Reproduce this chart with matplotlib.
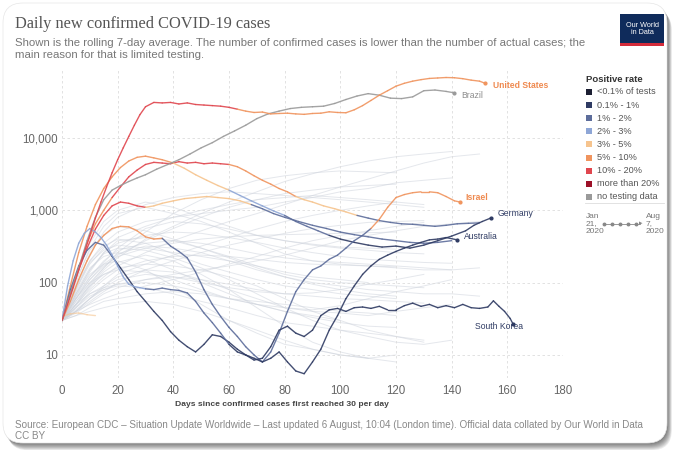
import numpy as np
import matplotlib
matplotlib.use("Agg")
import matplotlib.pyplot as plt
from matplotlib.collections import LineCollection
from matplotlib.patches import FancyBboxPatch, Rectangle
from matplotlib.transforms import IdentityTransform
from matplotlib.lines import Line2D

plt.rcParams["font.family"] = ["Liberation Sans", "DejaVu Sans"]

# positive-rate bins (legend order) and their colours
rate_labels = ["<0.1% of tests", "0.1% - 1%", "1% - 2%", "2% - 3%", "3% - 5%",
               "5% - 10%", "10% - 20%", "more than 20%", "no testing data"]
rate_colors = ["#1c1f33", "#2f3b63", "#5d6d9b", "#8ea6d6", "#f6c48e",
               "#f0945e", "#e0464e", "#9c1028", "#9a9a9a"]

# highlighted countries: day since 30 cases/day, 7-day avg, rate bin changes (day, bin)
us_days = [0, 2, 4, 6, 8, 10, 12, 14, 16, 18, 20, 22, 24, 26, 28, 30, 33, 36, 39, 42, 45, 48,
           51, 54, 57, 60, 63, 66, 69, 72, 75, 78, 81, 84, 87, 90, 93, 96, 99, 102, 105, 108,
           111, 114, 117, 120, 123, 126, 129, 132, 135, 138, 141, 144, 147, 150, 152]
us_vals = [30, 50, 85, 150, 260, 450, 780, 1300, 2100, 3300, 5000, 7300, 10500, 15000, 21000,
           27000, 31000, 30500, 31000, 29500, 30500, 29000, 28500, 28000, 27500, 26500, 25000,
           23500, 22500, 22800, 21500, 21800, 22000, 21500, 21200, 21800, 22000, 23000, 22500,
           22300, 24500, 28000, 33000, 39000, 45000, 52000, 57000, 61000, 64000, 66500, 67500,
           68500, 68000, 66000, 63000, 61000, 57000]
us_rate = [(0, 6), (64, 5)]

brazil_days = [0, 3, 6, 9, 12, 15, 18, 21, 24, 27, 30, 34, 38, 42, 46, 50, 54, 58, 62, 66, 70,
               74, 78, 82, 86, 90, 94, 98, 102, 106, 110, 114, 118, 122, 126, 130, 134, 138, 141]
brazil_vals = [30, 70, 160, 380, 800, 1400, 1900, 2200, 2500, 2800, 3100, 3700, 4300, 5000,
               6000, 7300, 8600, 10500, 12500, 15000, 18500, 21500, 23500, 25500, 26500, 27000,
               27500, 30000, 34000, 38000, 41000, 39000, 35500, 35000, 37000, 45000, 46000,
               44000, 42000]
brazil_rate = [(0, 8)]

uk_days = [0, 3, 6, 9, 12, 15, 18, 21, 24, 27, 30, 33, 36, 39, 42, 45, 48, 51, 54, 57, 60, 63,
           66, 69, 72, 75, 78, 81, 84, 87, 90, 94, 98, 102, 106, 110, 114, 118, 122, 126, 130,
           134, 138, 142, 146, 150]
uk_vals = [30, 70, 160, 350, 650, 1000, 1500, 2100, 2900, 3600, 4300, 4600, 4500, 4400, 4700,
           4500, 4600, 4400, 4500, 4400, 4300, 4000, 3500, 3000, 2600, 2300, 2000, 1800, 1550,
           1400, 1300, 1150, 1050, 950, 850, 780, 720, 680, 650, 640, 620, 600, 620, 650, 660,
           670]
uk_rate = [(0, 5), (20, 6), (62, 5), (86, 4), (110, 2)]

germany_days = [0, 3, 6, 9, 12, 15, 18, 21, 24, 27, 30, 33, 36, 40, 44, 48, 52, 56, 60, 64, 68,
                72, 76, 80, 84, 88, 92, 96, 100, 105, 110, 115, 120, 125, 130, 135, 140, 145,
                148, 151, 154]
germany_vals = [30, 90, 260, 600, 1200, 2000, 2900, 3900, 4800, 5400, 5600, 5300, 5000, 4500,
                3800, 3100, 2600, 2200, 1900, 1600, 1350, 1150, 980, 850, 700, 600, 520, 450,
                400, 360, 330, 310, 320, 300, 330, 380, 440, 520, 620, 700, 780]
germany_rate = [(0, 5), (42, 4), (62, 3), (82, 2), (100, 1)]

other_days = [0, 3, 6, 9, 12, 15, 18, 21, 24, 27, 30, 33, 36, 40, 44, 48, 52, 56, 60, 64, 68,
              72, 76, 80, 85, 90, 95, 100, 105, 110, 115, 120, 125, 130, 135, 140]
other_vals = [30, 70, 150, 300, 550, 850, 1150, 1300, 1250, 1150, 1100, 1150, 1250, 1350, 1450,
              1500, 1550, 1500, 1450, 1350, 1200, 1050, 900, 800, 700, 620, 560, 500, 460, 430,
              400, 380, 360, 350, 360, 380]
other_rate = [(0, 6), (32, 4), (72, 2)]

israel_days = [0, 3, 6, 9, 12, 15, 18, 21, 24, 27, 30, 33, 36, 39, 42, 45, 48, 51, 54, 57, 60,
               63, 66, 69, 72, 75, 78, 81, 84, 87, 90, 93, 96, 99, 102, 105, 108, 111, 114, 117,
               120, 123, 126, 129, 132, 135, 138, 141, 143]
israel_vals = [30, 55, 110, 200, 330, 450, 560, 600, 590, 520, 430, 400, 410, 320, 270, 220,
               140, 80, 50, 34, 24, 18, 13, 10, 8, 11, 20, 40, 75, 110, 150, 170, 210, 240, 300,
               380, 450, 560, 750, 1100, 1500, 1650, 1750, 1800, 1800, 1750, 1550, 1350, 1300]
israel_rate = [(0, 5), (38, 2), (112, 5)]

australia_days = [0, 3, 6, 9, 12, 15, 18, 21, 24, 27, 30, 33, 36, 39, 42, 45, 48, 51, 54, 57,
                  60, 63, 66, 69, 72, 75, 78, 81, 84, 87, 90, 93, 96, 99, 102, 105, 108, 111,
                  114, 117, 120, 123, 126, 129, 132, 135, 138, 142]
australia_vals = [30, 80, 170, 280, 360, 330, 230, 160, 110, 75, 55, 40, 30, 21, 16, 13, 11, 14,
                  19, 18, 15, 12, 10, 9, 8, 9, 11, 8, 6, 5.5, 8, 12, 22, 35, 60, 90, 130, 170,
                  210, 240, 270, 300, 330, 360, 390, 400, 420, 390]
australia_rate = [(0, 2), (20, 1)]

korea_days = [0, 2, 4, 6, 8, 10, 12, 14, 16, 18, 20, 22, 24, 26, 28, 30, 33, 36, 39, 42, 45, 48,
              51, 54, 57, 60, 63, 66, 69, 72, 75, 78, 81, 84, 87, 90, 93, 96, 99, 102, 105, 108,
              111, 114, 117, 120, 123, 126, 129, 132, 135, 138, 141, 144, 147, 150, 153, 155,
              157, 159, 161, 162]
korea_vals = [30, 90, 200, 350, 480, 560, 500, 420, 330, 240, 170, 120, 95, 88, 85, 82, 80, 84,
              80, 78, 72, 55, 38, 28, 20, 14, 11, 10, 8.5, 9, 13, 22, 25, 20, 18, 22, 35, 42, 44,
              40, 45, 46, 44, 47, 42, 42, 48, 52, 47, 50, 45, 48, 45, 50, 45, 44, 46, 56, 47, 40,
              32, 27]
korea_rate = [(0, 3), (32, 2), (62, 1)]

flat_days = [0, 3, 6, 9, 12]
flat_vals = [34, 37, 38, 36, 35]
flat_rate = [(0, 4)]

# end labels: name, x, y
label_names = ["United States", "Brazil", "Israel", "Germany", "Australia", "South Korea"]
label_x = [155, 143.5, 145, 156.5, 144.5, 148.5]
label_y = [53000, 39000, 1480, 890, 430, 25]
label_colors = ["#ef8a50", "#8c8c8c", "#ef8a50", "#2f3b63", "#2f3b63", "#2f3b63"]

# faint background countries, sampled on bg_days
bg_days = [0, 5, 10, 15, 20, 30, 40, 50, 60, 70, 80, 90, 100, 110, 120, 130, 140, 150]
bg_series = [
    [30, 60, 110, 180, 250, 320, 300, 260, 200, 150, 120, 100, 90, 80, 75, 70, 70, 65],
    [30, 45, 70, 90, 120, 150, 140, 110, 80, 60, 45, 40, 38, 35, 40, 45, 50],
    [30, 80, 200, 350, 500, 700, 800, 900, 1000, 1100, 1300, 1500, 1800, 2000, 2400, 2600, 2800],
    [30, 55, 90, 130, 160, 180, 170, 150, 120, 90, 60, 40, 30, 22, 18, 15],
    [30, 40, 60, 80, 95, 110, 130, 150, 170, 200, 240, 300, 380, 450, 520, 600, 650, 700],
    [30, 70, 150, 250, 300, 280, 220, 160, 110, 70, 45, 30, 22, 18, 15, 14, 16],
    [30, 50, 80, 120, 170, 260, 380, 520, 700, 900, 1200, 1600, 2100, 2700, 3500, 4500, 5500, 6000],
    [30, 90, 250, 500, 800, 1200, 1500, 1700, 1800, 1700, 1600, 1500, 1400, 1300, 1200, 1100],
    [30, 35, 45, 55, 60, 70, 75, 70, 60, 55, 50, 45, 40, 38, 35],
    [30, 60, 120, 200, 280, 350, 380, 350, 300, 250, 220, 200, 190, 180, 170, 160, 150],
    [30, 50, 90, 150, 220, 400, 600, 900, 1300, 1800, 2500, 3200, 4000, 4800, 5500, 6000, 6500],
    [30, 70, 130, 180, 200, 150, 90, 50, 30, 20, 14, 12, 10, 9, 10],
    [30, 40, 55, 75, 100, 150, 200, 260, 330, 400, 480, 560, 620, 680, 700, 720],
    [30, 100, 300, 600, 900, 1100, 900, 700, 500, 350, 250, 200, 180, 170, 160, 150, 150, 160],
    [30, 45, 65, 80, 90, 85, 70, 55, 45, 35, 28, 25, 22, 20, 18, 16],
    [30, 60, 110, 170, 230, 300, 350, 400, 430, 450, 460, 470, 480, 490, 500],
    [30, 80, 180, 300, 420, 600, 800, 1000, 1200, 1400, 1500, 1600, 1500, 1400, 1300, 1200],
    [30, 40, 50, 60, 70, 90, 110, 140, 180, 230, 300, 380, 450, 520, 600, 680],
    [30, 65, 140, 260, 380, 420, 380, 300, 230, 170, 130, 110, 100, 95, 90, 85],
    [30, 50, 70, 85, 95, 100, 90, 75, 60, 50, 45, 42, 48, 60, 75, 90, 110],
    [30, 90, 200, 320, 400, 350, 250, 180, 140, 110, 90, 80, 70, 65, 60],
    [30, 35, 40, 45, 50, 55, 50, 40, 30, 22, 16, 12, 10, 9, 8],
    [30, 55, 100, 160, 240, 380, 560, 800, 1100, 1400, 1700, 1900, 2100, 2200, 2300],
    [30, 70, 150, 260, 350, 450, 500, 480, 420, 360, 300, 260, 230, 210, 200, 190, 185],
    [30, 45, 75, 110, 150, 200, 230, 240, 230, 210, 190, 180, 175, 170, 165],
    [30, 120, 350, 700, 1000, 1300, 1100, 800, 600, 450, 380, 340, 310, 300, 290],
    [30, 40, 60, 90, 130, 180, 240, 320, 420, 550, 700, 850, 1000, 1150, 1300],
    [30, 60, 100, 130, 150, 140, 110, 80, 60, 50, 40, 35, 30],
    [30, 110, 280, 450, 600, 520, 400, 300, 220, 160, 120, 95, 80, 70, 65],
    [30, 50, 95, 160, 260, 500, 900, 1400, 2000, 2600, 3000, 3300, 3500, 3400, 3300],
    [30, 38, 52, 70, 85, 110, 120, 110, 95, 80, 70, 65, 60, 58, 55, 52],
    [30, 75, 160, 230, 260, 210, 150, 100, 70, 50, 40, 33, 28, 25, 24],
    [30, 42, 60, 85, 110, 130, 120, 100, 85, 75, 70, 72, 80, 95, 110, 130],
    [30, 85, 190, 280, 330, 300, 260, 230, 200, 170, 140, 120, 110, 100],
    [30, 48, 85, 140, 190, 240, 200, 130, 80, 45, 25, 15, 11, 9],
    [30, 65, 120, 190, 300, 560, 700, 650, 550, 450, 380, 330, 300, 280, 260, 250],
]

W, H = 676, 450
fig = plt.figure(figsize=(W / 100, H / 100), dpi=100)
fig.patch.set_facecolor("white")

# card with a soft drop shadow (pixel coordinates, origin bottom-left)
for i in range(8):
    o = 1 + i
    fig.add_artist(FancyBboxPatch((3 + o * 0.6, 7 - o * 0.9), 664, 440,
                                  boxstyle="round,pad=0,rounding_size=20",
                                  transform=IdentityTransform(), fc="black",
                                  ec="none", alpha=0.08, zorder=-20))
fig.add_artist(FancyBboxPatch((3, 7), 664, 440, boxstyle="round,pad=0,rounding_size=20",
                              transform=IdentityTransform(), fc="white", ec="#e6e6e6",
                              lw=0.5, zorder=-10))

ax = fig.add_axes([62 / W, 1 - 378 / H, 501 / W, 308 / H])
ax.set_facecolor("none")
ax.set_yscale("log")
ax.set_xlim(0, 180)
ax.set_ylim(4.8, 87000)


def rate_bins(days, changes):
    out = []
    for d in days:
        b = changes[0][1]
        for start, bin_ in changes:
            if d >= start:
                b = bin_
        out.append(b)
    return out


def draw_country(days, vals, changes, lw=1.0, alpha=0.9, marker=True):
    pts = np.column_stack([days, vals])
    segs = np.stack([pts[:-1], pts[1:]], axis=1)
    bins = rate_bins(days[1:], changes)
    lc = LineCollection(segs, colors=[rate_colors[b] for b in bins], linewidths=lw,
                        alpha=alpha, capstyle="round", joinstyle="round", zorder=3)
    ax.add_collection(lc)
    if marker:
        ax.plot(days[-1], vals[-1], "o", ms=2, color=rate_colors[bins[-1]], zorder=4)


for vals in bg_series:
    ax.plot(bg_days[:len(vals)], vals, color="#cfd4dd", lw=0.7, alpha=0.55, zorder=1)

draw_country(flat_days, flat_vals, flat_rate, lw=1.0, alpha=0.6, marker=False)
draw_country(other_days, other_vals, other_rate, marker=False)
draw_country(uk_days, uk_vals, uk_rate, marker=False)
draw_country(germany_days, germany_vals, germany_rate)
draw_country(israel_days, israel_vals, israel_rate)
draw_country(australia_days, australia_vals, australia_rate)
draw_country(korea_days, korea_vals, korea_rate)
draw_country(brazil_days, brazil_vals, brazil_rate)
draw_country(us_days, us_vals, us_rate)

for name, x, y, c in zip(label_names, label_x, label_y, label_colors):
    ax.text(x, y, name, color=c, fontsize=6.2, va="center", ha="left",
            fontweight="bold" if name in ("United States", "Israel") else "normal", zorder=5)

ax.set_xticks(range(0, 181, 20))
ax.set_yticks([10, 100, 1000, 10000])
ax.set_yticklabels(["10", "100", "1,000", "10,000"])
ax.minorticks_off()
ax.tick_params(axis="both", length=0, labelsize=8.3, labelcolor="#666666")
ax.tick_params(axis="x", pad=5)
ax.tick_params(axis="y", pad=3)
ax.grid(True, color="#dddddd", lw=0.6, ls=(0, (3, 3)))
for s in ax.spines.values():
    s.set_visible(False)

fig.text(282 / W, 1 - 405 / H, "Days since confirmed cases first reached 30 per day",
         fontsize=6.1, color="#444444", fontweight="bold", ha="center", va="center")

# header
fig.text(15 / W, 1 - 28 / H, "Daily new confirmed COVID-19 cases", family="Liberation Serif",
         fontsize=11.8, color="#555555", va="baseline")
fig.text(15 / W, 1 - 46 / H,
         "Shown is the rolling 7-day average. The number of confirmed cases is lower than the "
         "number of actual cases; the", fontsize=8.2, color="#777777", va="baseline")
fig.text(15 / W, 1 - 58 / H, "main reason for that is limited testing.", fontsize=8.2,
         color="#777777", va="baseline")

# logo
fig.add_artist(Rectangle((620, H - 46), 44, 32, transform=IdentityTransform(),
                         fc="#0f2b5b", ec="none"))
fig.add_artist(Rectangle((620, H - 46), 44, 3, transform=IdentityTransform(),
                         fc="#d42b3a", ec="none"))
fig.text(642 / W, 1 - 29 / H, "Our World\nin Data", color="white", fontsize=5.2,
         ha="center", va="center", linespacing=1.1)

# positive-rate legend
fig.text(586 / W, 1 - 79 / H, "Positive rate", fontsize=6.8, fontweight="bold",
         color="#333333", va="center")
for i, (lab, col) in enumerate(zip(rate_labels, rate_colors)):
    yb = 92 + 13.1 * i
    fig.add_artist(Rectangle((586, H - yb - 3), 6, 6, transform=IdentityTransform(),
                             fc=col, ec="none"))
    fig.text(597 / W, 1 - yb / H, lab, fontsize=6.6, color="#555555", va="center")
fig.add_artist(Line2D([585 / W, 664 / W], [1 - 203 / H, 1 - 203 / H], color="#dddddd", lw=0.6))
fig.text(586 / W, 1 - 224 / H, "Jan\n21,\n2020", fontsize=6.0, color="#777777",
         va="center", linespacing=1.1)
fig.text(646 / W, 1 - 224 / H, "Aug\n7,\n2020", fontsize=6.0, color="#777777",
         va="center", linespacing=1.1)
fig.add_artist(Line2D([604 / W, 640 / W], [1 - 224 / H, 1 - 224 / H], color="#888888",
                      lw=0.6))
for xm in range(604, 640, 8):
    fig.add_artist(Line2D([xm / W], [1 - 224 / H], color="#888888", marker="o", ms=1.8, lw=0))
fig.text(641 / W, 1 - 224 / H, "▸", fontsize=5, color="#888888", va="center", ha="center")

# footer
fig.text(15 / W, 1 - 428 / H,
         "Source: European CDC – Situation Update Worldwide – Last updated 6 August, 10:04 "
         "(London time). Official data collated by Our World in Data", fontsize=7.1,
         color="#888888", va="baseline")
fig.text(15 / W, 1 - 439 / H, "CC BY", fontsize=7.1, color="#888888", va="baseline")

fig.savefig("out.png", dpi=100, facecolor="white")
